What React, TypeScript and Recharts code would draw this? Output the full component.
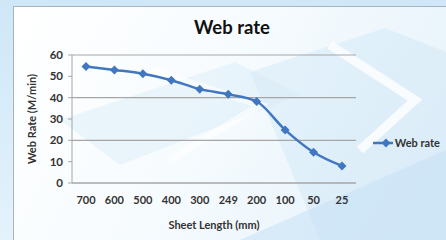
import { CartesianGrid, Legend, Line, LineChart, XAxis, YAxis } from "recharts";

const sheetLengths = ["700", "600", "500", "400", "300", "249", "200", "100", "50", "25"];
const webRates = [54.6, 53, 51.2, 48.2, 44, 41.6, 38.2, 24.9, 14.4, 8];
const yTicks = [0, 10, 20, 30, 40, 50, 60];

const data = sheetLengths.map((name, i) => ({ name, rate: webRates[i] }));

const BLUE = "#4077c0";
const FONT = "Lato, 'Open Sans', sans-serif";

function Diamond(props: any) {
  const { cx, cy } = props;
  if (cx == null || cy == null) return null;
  const s = 4.5;
  return (
    <polygon
      points={`${cx},${cy - s} ${cx + s},${cy} ${cx},${cy + s} ${cx - s},${cy}`}
      fill={BLUE}
    />
  );
}

function LegendBox() {
  return (
    <div style={{ display: "flex", alignItems: "center", paddingLeft: 17, fontFamily: FONT, fontWeight: 700, fontSize: 11, color: "#333" }}>
      <svg width={26} height={10}>
        <line x1={0} y1={5} x2={26} y2={5} stroke={BLUE} strokeWidth={2.5} />
        <polygon points="13,0.5 17.5,5 13,9.5 8.5,5" fill={BLUE} />
      </svg>
      <span style={{ marginLeft: 2, whiteSpace: "nowrap" }}>Web rate</span>
    </div>
  );
}

// pale decorative backdrop behind the chart box
function Backdrop() {
  return (
    <svg width={446} height={240} style={{ position: "absolute", left: 0, top: 0 }}>
      <polygon points="250,72 385,28 446,52 446,240 320,240" fill="#cfe6f7" opacity={0.45} />
      <polygon points="60,120 235,62 300,95 120,165" fill="#d8ecf9" opacity={0.45} />
      <polygon points="240,240 446,150 446,240" fill="#c4e0f5" opacity={0.5} />
      <polyline points="330,45 415,100 360,150" fill="none" stroke="#ffffff" strokeWidth={9} opacity={0.8} />
      <polyline points="150,70 260,105 170,160" fill="none" stroke="#ffffff" strokeWidth={7} opacity={0.6} />
    </svg>
  );
}

export default function App() {
  return (
    <div
      style={{
        position: "absolute",
        left: 0,
        top: 0,
        width: 446,
        height: 240,
        overflow: "hidden",
        background: "linear-gradient(180deg, #cfe7f7 0%, #e4f2fb 100%)",
      }}
    >
      <div
        style={{
          position: "absolute",
          left: 13,
          top: 6,
          width: 440,
          height: 240,
          borderLeft: "1px solid #a8b4bd",
          borderTop: "1px solid #a8b4bd",
          background: "linear-gradient(120deg, #ffffff 0%, #f6fbfe 45%, #e2f0fa 100%)",
        }}
      />
      <Backdrop />
      <div
        style={{
          position: "absolute",
          left: 0,
          width: 464,
          top: 16,
          textAlign: "center",
          fontFamily: FONT,
          fontWeight: 700,
          fontSize: 18.5,
          color: "#111",
        }}
      >
        Web rate
      </div>
      <div style={{ position: "absolute", left: 0, top: 0 }}>
        <LineChart width={446} height={240} data={data} margin={{ top: 55, right: 6, bottom: 0, left: 0 }}>
          <CartesianGrid vertical={false} stroke="#a6a6a6" strokeWidth={1.2} />
          <XAxis
            dataKey="name"
            height={57}
            padding={{ left: 14, right: 14 }}
            tickLine={false}
            tickSize={0}
            tickMargin={13}
            axisLine={{ stroke: "#a6a6a6" }}
            tick={{ fill: "#333", fontFamily: FONT, fontWeight: 700, fontSize: 11 }}
            label={{
              value: "Sheet Length (mm)",
              position: "insideBottom",
              offset: 11,
              fill: "#333",
              fontFamily: FONT,
              fontWeight: 700,
              fontSize: 11,
            }}
          />
          <YAxis
            width={72}
            domain={[0, 60]}
            ticks={yTicks}
            tickSize={4}
            tickMargin={5}
            axisLine={{ stroke: "#a6a6a6" }}
            tickLine={{ stroke: "#a6a6a6" }}
            tick={{ fill: "#333", fontFamily: FONT, fontWeight: 700, fontSize: 11.5 }}
            label={{
              value: "Web Rate (M/min)",
              angle: -90,
              position: "insideLeft",
              offset: 32,
              style: { textAnchor: "middle" },
              fill: "#333",
              fontFamily: FONT,
              fontWeight: 700,
              fontSize: 11,
            }}
          />
          <Legend
            layout="vertical"
            align="right"
            verticalAlign="middle"
            content={() => <LegendBox />}
            wrapperStyle={{ width: 84, top: 136 }}
          />
          <Line
            type="monotone"
            dataKey="rate"
            name="Web rate"
            stroke={BLUE}
            strokeWidth={2.5}
            dot={<Diamond />}
            activeDot={false}
            isAnimationActive={false}
          />
        </LineChart>
      </div>
    </div>
  );
}
